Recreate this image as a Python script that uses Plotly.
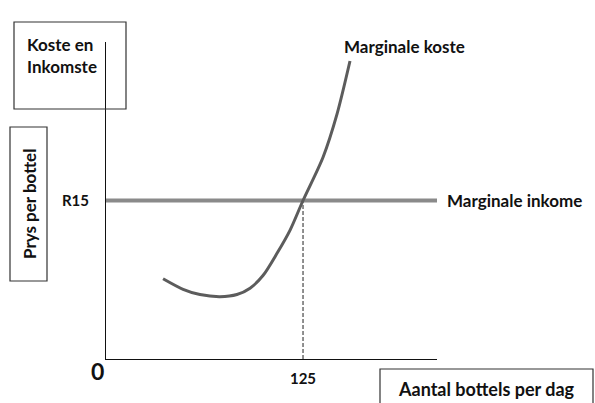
import plotly.graph_objects as go

# Marginal cost curve (bottles per day vs rand per bottle)
mc_qty = [36.2, 48.9, 59.6, 72.3, 83.1, 91.4, 99.6, 108.5, 116.8, 125, 137.7, 146.6, 154.8]
mc_cost = [7.6, 6.6, 6.1, 5.9, 6.1, 6.7, 7.9, 10.0, 12.2, 15.0, 19.1, 23.2, 28.2]

# Marginal revenue = price per bottle, flat
mr_qty = [0, 210]
mr_price = [15, 15]

equilibrium_qty = 125
equilibrium_price = 15

W, H = 595, 403


def px(x):
    return x / W


def py(y):
    return 1 - y / H


FONT = "Lato"
INK = "#111111"

fig = go.Figure()

# dashed drop line from the intersection down to the x axis
fig.add_trace(go.Scatter(
    x=[equilibrium_qty, equilibrium_qty],
    y=[0, equilibrium_price],
    mode="lines",
    line=dict(color="#222222", width=1, dash="4px,2px"),
    hoverinfo="skip",
))

fig.add_trace(go.Scatter(
    x=mr_qty, y=mr_price,
    mode="lines",
    line=dict(color="#8a8a8a", width=4),
    name="Marginale inkome",
))

fig.add_trace(go.Scatter(
    x=mc_qty, y=mc_cost,
    mode="lines",
    line=dict(color="#5c5c5c", width=3, shape="spline", smoothing=0.8),
    name="Marginale koste",
))

# label boxes
boxes = [
    (14, 22, 126, 109),
    (10, 127, 47, 281),
    (380, 369, 593, 410),
]
shapes = []
for x0, y0, x1, y1 in boxes:
    shapes.append(dict(
        type="rect", xref="paper", yref="paper",
        x0=px(x0), x1=px(x1), y0=py(y0), y1=py(y1),
        line=dict(color="#333333", width=1.2), fillcolor="rgba(0,0,0,0)",
    ))

label = dict(family=FONT, size=17, color=INK)
annotations = [
    dict(text="<b>Koste en<br>Inkomste</b>", x=px(25), y=py(55), xanchor="left",
         yanchor="middle", align="left", font=label),
    dict(text="<b>Prys per bottel</b>", x=px(29), y=py(204), textangle=-90,
         xanchor="center", yanchor="middle", font=label),
    dict(text="<b>Aantal bottels per dag</b>", x=px(486), y=py(389),
         xanchor="center", yanchor="middle", font=dict(family=FONT, size=18, color=INK)),
    dict(text="<b>Marginale koste</b>", x=px(342), y=py(47), xanchor="left",
         yanchor="middle", font=label),
    dict(text="<b>Marginale inkome</b>", x=px(445), y=py(201), xanchor="left",
         yanchor="middle", font=label),
    dict(text="<b>0</b>", x=px(97), y=py(371), xanchor="center", yanchor="middle",
         font=dict(family=FONT, size=23, color=INK)),
]
for a in annotations:
    a["showarrow"] = False
    a["xref"] = "paper"
    a["yref"] = "paper"

fig.update_layout(
    width=W, height=H,
    margin=dict(l=0, r=0, t=0, b=0),
    paper_bgcolor="white",
    plot_bgcolor="white",
    showlegend=False,
    shapes=shapes,
    annotations=annotations,
    xaxis=dict(
        domain=[px(106), px(437)], range=[0, 210],
        showgrid=False, zeroline=False, showline=True, linecolor=INK, linewidth=1,
        tickvals=[equilibrium_qty], ticktext=["<b>125</b>"], ticks="", ticklabelstandoff=6,
        tickfont=dict(family=FONT, size=15, color=INK),
    ),
    yaxis=dict(
        domain=[py(359), py(42)], range=[0, 30],
        showgrid=False, zeroline=False, showline=True, linecolor=INK, linewidth=1,
        tickvals=[equilibrium_price], ticktext=["<b>R15</b>"], ticks="", ticklabelstandoff=13,
        tickfont=dict(family=FONT, size=15, color=INK),
    ),
)

fig.write_html(
    "out.html",
    config={"displayModeBar": False},
    post_script="document.body.style.margin='0';",
)
